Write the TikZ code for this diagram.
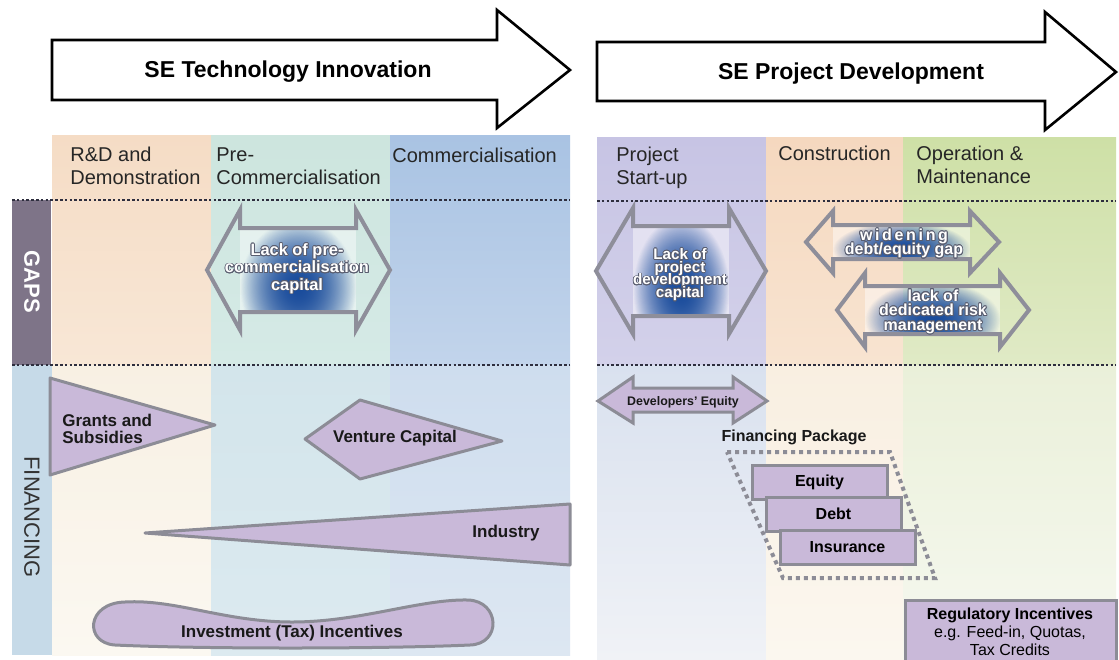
\documentclass[tikz,border=0pt]{standalone}
\usepackage{fontspec}
\setmainfont{Liberation Sans}
\usepackage{contour}
\contourlength{0.4pt}
\usetikzlibrary{calc,fadings}

\definecolor{rdA}{HTML}{F5DCC5}\definecolor{rdB}{HTML}{F8E7D6}
\definecolor{rdC}{HTML}{F8F0E3}\definecolor{rdD}{HTML}{FBF8F1}
\definecolor{pcA}{HTML}{CDE5DE}\definecolor{pcB}{HTML}{D5EAE6}
\definecolor{pcC}{HTML}{D3E5EB}\definecolor{pcD}{HTML}{DCEAF0}
\definecolor{cmA}{HTML}{A9C3E3}\definecolor{cmB}{HTML}{C2D4EB}
\definecolor{cmC}{HTML}{CEDDEE}\definecolor{cmD}{HTML}{DDE7F2}
\definecolor{psA}{HTML}{C7C4E4}\definecolor{psB}{HTML}{D3D1EA}
\definecolor{psC}{HTML}{D9E1EF}\definecolor{psD}{HTML}{F0F2F6}
\definecolor{coA}{HTML}{F5D8BF}\definecolor{coB}{HTML}{F8E4D1}
\definecolor{coC}{HTML}{F9EFE1}\definecolor{coD}{HTML}{FBF7EF}
\definecolor{opA}{HTML}{CEE0A6}\definecolor{opB}{HTML}{E0EAC6}
\definecolor{opC}{HTML}{EAF0D9}\definecolor{opD}{HTML}{F6F8F0}
\definecolor{gapsbar}{HTML}{7E7488}
\definecolor{finbar}{HTML}{C6DAE8}
\definecolor{finfill}{HTML}{C9B9D9}
\definecolor{fingray}{HTML}{8C8C96}
\definecolor{gapgray}{HTML}{8E8E9A}
\definecolor{gapblue}{HTML}{1A4C9C}
\definecolor{dotcol}{HTML}{2E2E3E}
\definecolor{txtoutline}{HTML}{5A5E70}

\tikzfading[name=blobfade, inner color=transparent!0, outer color=transparent!100]

% white text with a grey outline
\newcommand{\gl}[1]{\contour{txtoutline}{#1}}

% double arrow: #1 left tip x, #2 left base x, #3 right base x, #4 right tip x, #5 yc, #6 head half height, #7 body half height
\newcommand{\gaparrowshape}[7]{%
  \begin{scope}
    \clip (#2,#5-#7) rectangle (#3,#5+#7);
    \fill[white, opacity=0.45] (#2,#5-#7) rectangle (#3,#5+#7);
    \fill[gapblue, path fading=blobfade] (#2,{#5-1.2*#7}) rectangle (#3,{#5+2.0*#7});
    \fill[gapblue, path fading=blobfade] (#2,{#5-1.2*#7}) rectangle (#3,{#5+2.0*#7});
  \end{scope}
  \draw[gapgray, line width=2pt, line join=miter] (#1,#5) -- (#2,#5-#6) -- (#2,#5-#7) -- (#3,#5-#7) -- (#3,#5-#6) -- (#4,#5)
     -- (#3,#5+#6) -- (#3,#5+#7) -- (#2,#5+#7) -- (#2,#5+#6) -- cycle;
}

\tikzset{
  bigarrow/.style={draw=black, line width=1.3pt, fill=white, line join=miter},
  title/.style={font=\bfseries\fontsize{11.5}{13}\selectfont, inner sep=0},
  hdr/.style={font=\fontsize{10}{11.5}\selectfont, align=left, inner sep=0, anchor=west, text=black!85},
  finshape/.style={fill=finfill, draw=fingray, line width=1.5pt, line join=round},
  gaptxt/.style={text=white, align=center, inner sep=0},
  lbl/.style={font=\bfseries\fontsize{8.5}{8.5}\selectfont, inner sep=0, text=black!90},
  dotline/.style={draw=dotcol, line width=1.3pt, dash pattern=on 1.3pt off 1.1pt},
  pkgbox/.style={rectangle, fill=finfill, draw=fingray, line width=1.5pt,
     minimum width=67.5pt, minimum height=17pt, inner sep=0,
     font=\bfseries\fontsize{8}{9}\selectfont},
}

\begin{document}
\setlength{\lineskiplimit}{-20pt}
\begin{tikzpicture}[x=0.5pt,y=-0.5pt]
\useasboundingbox (0,0) rectangle (1119,659);
\fill[white] (0,0) rectangle (1119,659);

% ---------- column backgrounds ----------
\fill[top color=rdA, bottom color=rdB] (52,135) rectangle (211,365);
\fill[top color=rdC, bottom color=rdD] (52,365) rectangle (211,655);
\fill[top color=pcA, bottom color=pcB] (211,135) rectangle (390,365);
\fill[top color=pcC, bottom color=pcD] (211,365) rectangle (390,655);
\fill[top color=cmA, bottom color=cmB] (390,135) rectangle (570,365);
\fill[top color=cmC, bottom color=cmD] (390,365) rectangle (570,655);

\fill[top color=psA, bottom color=psB] (597,137) rectangle (766,365);
\fill[top color=psC, bottom color=psD] (597,365) rectangle (766,659);
\fill[top color=coA, bottom color=coB] (766,137) rectangle (903,365);
\fill[top color=coC, bottom color=coD] (766,365) rectangle (903,659);
\fill[top color=opA, bottom color=opB] (903,137) rectangle (1116,365);
\fill[top color=opC, bottom color=opD] (903,365) rectangle (1116,659);

% side bars
\fill[gapsbar] (12,200) rectangle (51,365);
\fill[finbar] (12,365) rectangle (52,655);
\node[rotate=-90, text=white, font=\bfseries\fontsize{11}{12}\selectfont, inner sep=0] (gaps) at (32,282) {GAPS};
\node[rotate=-90, text=black!80, font=\fontsize{11}{12}\selectfont, inner sep=0] (financing) at (32,517) {FINANCING};

% dotted separators
\draw[dotline] (12,200) -- (570,200);
\draw[dotline] (12,365) -- (570,365);
\draw[dotline] (597,201) -- (1116,201);
\draw[dotline] (597,365) -- (1116,365);

% ---------- top arrows ----------
\draw[bigarrow] (52,40) -- (497,40) -- (497,10) -- (570,70) -- (497,128) -- (497,100) -- (52,100) -- cycle;
\draw[bigarrow] (597,42) -- (1045,42) -- (1045,12) -- (1116,72) -- (1045,130) -- (1045,101) -- (597,101) -- cycle;
\node[title] (t1) at (288,72) {SE Technology Innovation};
\node[title] (t2) at (851,74) {SE Project Development};

% ---------- column headers ----------
\node[hdr] (h1) at (70,166) {R\&D and\\Demonstration};
\node[hdr] (h2) at (216,166) {Pre-\\Commercialisation};
\node[hdr] (h3) at (392,155) {Commercialisation};
\node[hdr] (h4) at (616,168) {Project\\Start-up};
\node[hdr] (h5) at (778,153) {Construction};
\node[hdr] (h6) at (916,165) {Operation \&\\Maintenance};

% ---------- gap arrows ----------
\gaparrowshape{207}{240}{356}{390}{270}{60}{42}
\node[gaptxt, font=\bfseries\fontsize{8.2}{8.6}\selectfont] (g1) at (297,269)
   {\gl{Lack of pre-}\\\gl{commercialisation}\\\gl{capital}};

\gaparrowshape{596}{633}{729}{766}{271}{63}{45}
\node[gaptxt, font=\bfseries\fontsize{7.6}{6.3}\selectfont] (g2) at (680,275)
   {\gl{Lack of}\\\gl{project}\\\gl{development}\\\gl{capital}};

\gaparrowshape{806}{833}{970}{999}{242}{31}{17}
\node[gaptxt, font=\bfseries\fontsize{8}{7}\selectfont] (g3) at (904,244)
   {\gl{w\,i\,d\,e\,n\,i\,n\,g}\\\gl{debt/equity gap}};

\gaparrowshape{837}{865}{1000}{1029}{310}{37}{24}
\node[gaptxt, font=\bfseries\fontsize{8}{7.3}\selectfont] (g4) at (933,312)
   {\gl{lack of}\\\gl{dedicated risk}\\\gl{management}};

% ---------- financing (left) ----------
\draw[finshape] (50,378) -- (215,425) -- (50,475) -- cycle;
\node[lbl, anchor=west, align=left] (grants) at (62,429) {Grants and\\Subsidies};

\draw[finshape] (305,439) -- (360,400) -- (502,441) -- (360,479) -- cycle;
\node[lbl] (venture) at (395,438) {Venture Capital};

\draw[finshape] (145,533) -- (570,504) -- (570,565) -- cycle;
\node[lbl] (industry) at (506,533) {Industry};

\draw[finshape] (125,602) .. controls (175,599) and (225,622) .. (292,622)
   .. controls (360,622) and (420,599) .. (468,600)
   .. controls (500,601) and (502,644) .. (470,645)
   .. controls (380,649) and (200,649) .. (115,645)
   .. controls (84,643) and (86,603) .. (125,602) -- cycle;
\node[lbl] (invest) at (292,633) {Investment (Tax) Incentives};

% ---------- financing (right) ----------
\draw[finshape, line join=miter] (598,401) -- (633,377) -- (633,388) -- (733,388) -- (733,377) -- (767,401)
   -- (733,423) -- (733,412) -- (633,412) -- (633,423) -- cycle;
\node[lbl, font=\bfseries\fontsize{6.2}{7}\selectfont] (deveq) at (683,402) {Developers' Equity};

\node[lbl, font=\bfseries\fontsize{8}{9}\selectfont] (finpkg) at (794,437) {Financing Package};
\draw[draw=fingray, line width=2pt, dash pattern=on 2pt off 2pt] (727,452) -- (890,452) -- (935,578) -- (783,578) -- cycle;

\node[pkgbox] (equity) at (819.5,482) {Equity};
\node[pkgbox] (debt) at (833.5,514) {Debt};
\node[pkgbox] (insurance) at (847.5,547) {Insurance};

\draw[finshape, line join=miter] (905,600) rectangle (1116,670);
\node[inner sep=0, align=center, font=\fontsize{8}{9}\selectfont] (regul) at (1010,632)
  {\textbf{Regulatory Incentives}\\e.g. Feed-in, Quotas,\\Tax Credits};
\end{tikzpicture}
\end{document}
